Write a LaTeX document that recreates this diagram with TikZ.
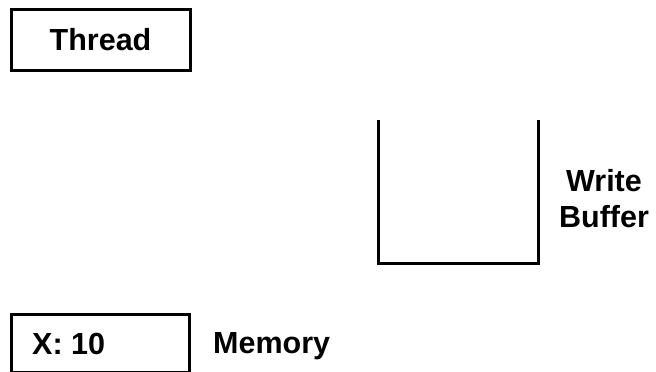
\documentclass[tikz,border=0pt]{standalone}
\usepackage{fontspec}
\setmainfont{Liberation Sans}
\begin{document}
\begin{tikzpicture}[x=1pt,y=-1pt,
  lbl/.style={inner sep=0pt, font=\bfseries\fontsize{30.5}{36}\selectfont},
  boxline/.style={draw=black, line width=3pt}]
\useasboundingbox (0,0) rectangle (656,372);
% Thread box
\node[boxline, lbl, minimum width=179pt, minimum height=61pt, anchor=center] (thread) at (100.5,39.5) {Thread};
% Write buffer (open-top container)
\coordinate (wbtl) at (378,120);
\coordinate (wbbl) at (378,263);
\coordinate (wbbr) at (538,263);
\coordinate (wbtr) at (538,120);
\draw[boxline, line join=miter] (wbtl) -- (wbbl) -- (wbbr) -- (wbtr);
\node[lbl, align=center] (wblabel) at (604,198.5) {Write\\Buffer};
% Memory box
\coordinate (memtl) at (11,314);
\coordinate (membr) at (189,372);
\draw[boxline] (memtl) rectangle (membr);
\node[lbl, anchor=base west] (xval) at (32,354) {X: 10};
\node[lbl, anchor=base west] (memlabel) at (213,353) {Memory};
\end{tikzpicture}
\end{document}
